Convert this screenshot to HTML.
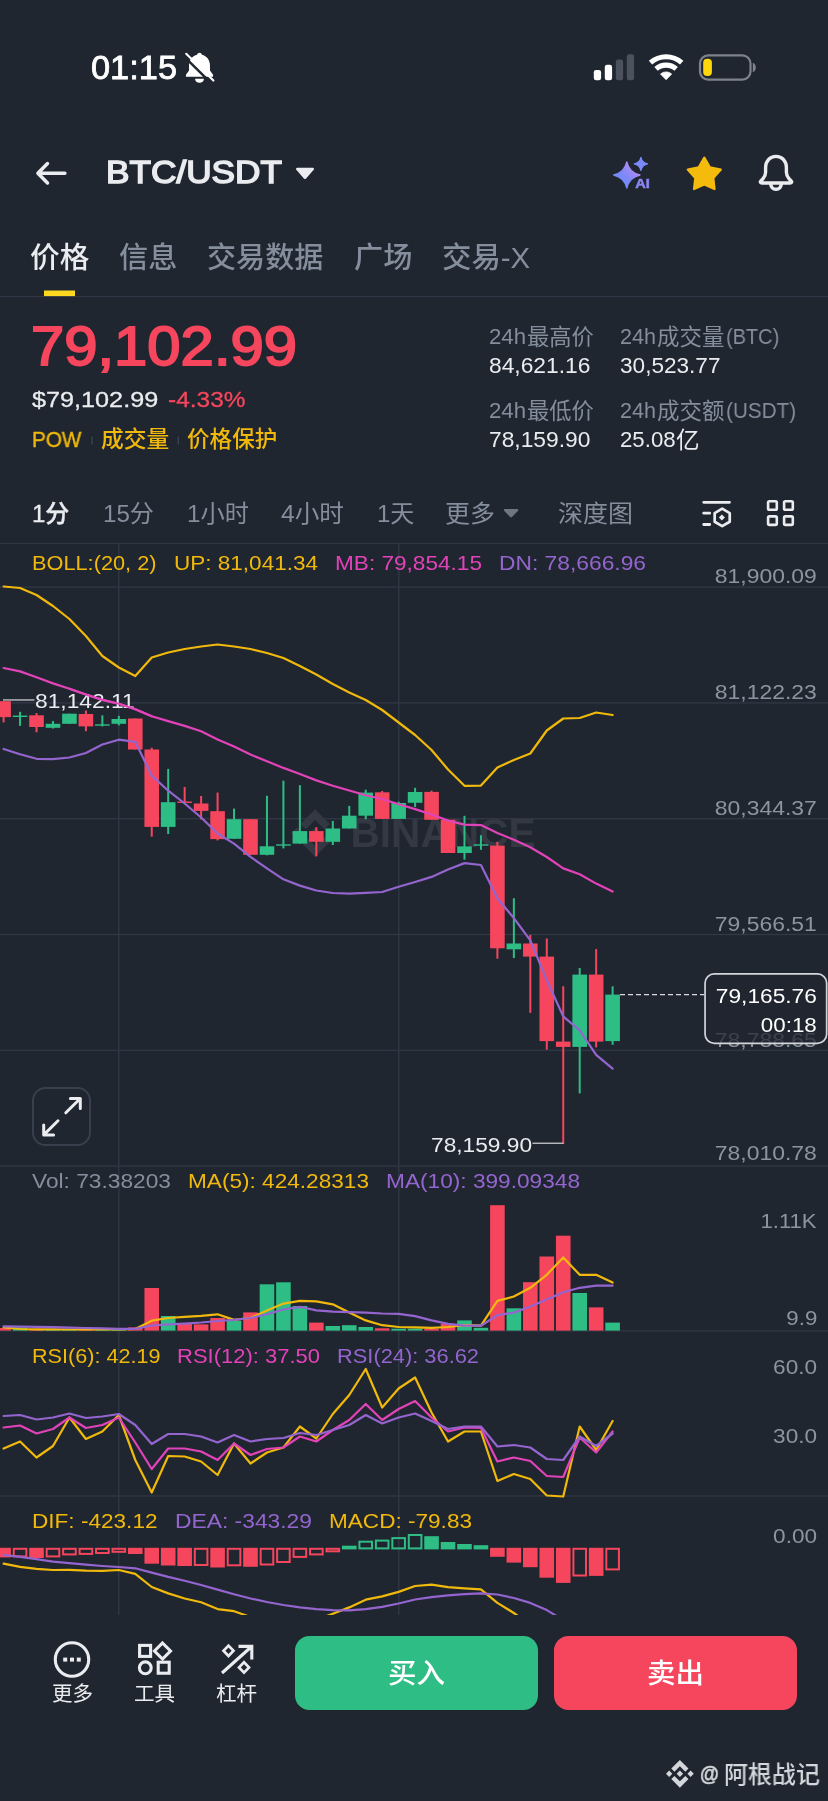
<!DOCTYPE html>
<html lang="zh-CN">
<head>
<meta charset="utf-8">
<meta name="viewport" content="width=828">
<title>BTC/USDT</title>
<style>
html,body{margin:0;padding:0;background:#202630;}
body{width:828px;height:1801px;position:relative;overflow:hidden;font-family:"Liberation Sans","Noto Sans CJK SC",sans-serif;color:#EAECEF;}
#g{position:absolute;left:0;top:0;width:828px;height:1801px;display:block;will-change:transform;}
.t{position:absolute;white-space:nowrap;line-height:1;margin:0;padding:0;will-change:transform;}
.r{text-align:right;}
.btn{position:absolute;top:1636.1px;height:73.9px;width:243.1px;border-radius:14.5px;}
.pbox{position:absolute;left:704.2px;top:973px;width:123.3px;height:71.2px;border-radius:10px;background:rgba(32,38,48,0.74);}
.ebox{position:absolute;left:32.4px;top:1087.4px;width:55px;height:55px;border:2px solid #39404d;border-radius:13.5px;background:#202630;}
</style>
</head>
<body>
<svg id="g" width="828" height="1801" viewBox="0 0 828 1801">
<!-- top separators -->
<rect x="0" y="296" width="828" height="1.1" fill="#303643"/>
<rect x="0" y="543" width="828" height="1.1" fill="#303643"/>
<rect x="44" y="290.5" width="31" height="5.6" fill="#FDD720"/>
<rect x="0" y="586.45" width="828" height="1.3" fill="#313846"/>
<rect x="0" y="702.25" width="828" height="1.3" fill="#313846"/>
<rect x="0" y="818.05" width="828" height="1.3" fill="#313846"/>
<rect x="0" y="933.85" width="828" height="1.3" fill="#313846"/>
<rect x="0" y="1049.65" width="828" height="1.3" fill="#313846"/>
<rect x="0" y="1165.45" width="828" height="1.3" fill="#313846"/>
<rect x="0" y="1330.25" width="828" height="1.3" fill="#313846"/>
<rect x="0" y="1495.35" width="828" height="1.3" fill="#313846"/>
<rect x="118.15" y="544" width="1.3" height="1071" fill="#313846"/>
<rect x="398.15" y="544" width="1.3" height="1071" fill="#313846"/>
<path d="M38.171 53.203 L62.759 28.616 l24.6 24.6 14.3-14.3 L62.759 0 23.864 38.896z M0 62.76 l14.3-14.3 14.3 14.3 -14.3 14.3z M38.171 72.316 l24.588 24.587 24.6-24.6 14.314 14.293 -38.914 38.915 L23.864 86.623z M97.01 62.76 l14.3-14.3 14.3 14.3 -14.3 14.3z M77.271 62.748 L62.76 48.236 48.243 62.753 62.76 77.271z" fill="#333843" transform="translate(291.3,809.2) scale(0.379)"/>
<text x="350.5" y="847.4" font-family="Liberation Sans, sans-serif" font-weight="700" font-size="40" fill="#333843" textLength="185" lengthAdjust="spacingAndGlyphs">BINANCE</text>
<rect x="2.6" y="701.2" width="2" height="21.2" fill="#F6465D"/>
<rect x="-3.7" y="701.2" width="14.6" height="15.9" fill="#F6465D"/>
<rect x="19.06" y="711.8" width="2" height="14.1" fill="#2EBD85"/>
<rect x="12.76" y="715.6" width="14.6" height="1.4" fill="#2EBD85"/>
<rect x="35.52" y="713.1" width="2" height="19.2" fill="#F6465D"/>
<rect x="29.22" y="715.3" width="14.6" height="11.7" fill="#F6465D"/>
<rect x="51.98" y="721" width="2" height="7.5" fill="#2EBD85"/>
<rect x="45.68" y="723.8" width="14.6" height="4" fill="#2EBD85"/>
<rect x="68.44" y="713.7" width="2" height="10.1" fill="#2EBD85"/>
<rect x="62.14" y="713.7" width="14.6" height="10.1" fill="#2EBD85"/>
<rect x="84.9" y="710.5" width="2" height="20.7" fill="#F6465D"/>
<rect x="78.6" y="714" width="14.6" height="12.4" fill="#F6465D"/>
<rect x="101.36" y="715.3" width="2" height="11.1" fill="#2EBD85"/>
<rect x="95.06" y="724.3" width="14.6" height="1.4" fill="#2EBD85"/>
<rect x="117.82" y="715.8" width="2" height="9.6" fill="#2EBD85"/>
<rect x="111.52" y="719" width="14.6" height="4.8" fill="#2EBD85"/>
<rect x="134.28" y="718.5" width="2" height="31" fill="#F6465D"/>
<rect x="127.98" y="718.5" width="14.6" height="31" fill="#F6465D"/>
<rect x="150.74" y="747.7" width="2" height="89" fill="#F6465D"/>
<rect x="144.44" y="749.5" width="14.6" height="77.4" fill="#F6465D"/>
<rect x="167.2" y="768.9" width="2" height="65.1" fill="#2EBD85"/>
<rect x="160.9" y="802.2" width="14.6" height="24.7" fill="#2EBD85"/>
<rect x="183.66" y="787" width="2" height="16.5" fill="#F6465D"/>
<rect x="177.36" y="801.5" width="14.6" height="1.4" fill="#F6465D"/>
<rect x="200.12" y="796" width="2" height="23.4" fill="#F6465D"/>
<rect x="193.82" y="803.5" width="14.6" height="7.4" fill="#F6465D"/>
<rect x="216.58" y="792.6" width="2" height="47.8" fill="#F6465D"/>
<rect x="210.28" y="811.2" width="14.6" height="27.9" fill="#F6465D"/>
<rect x="233.04" y="808.6" width="2" height="30.2" fill="#2EBD85"/>
<rect x="226.74" y="819.2" width="14.6" height="19.6" fill="#2EBD85"/>
<rect x="249.5" y="819.2" width="2" height="35.6" fill="#F6465D"/>
<rect x="243.2" y="819.2" width="14.6" height="35.6" fill="#F6465D"/>
<rect x="265.96" y="795.8" width="2" height="59.5" fill="#2EBD85"/>
<rect x="259.66" y="846.3" width="14.6" height="8.5" fill="#2EBD85"/>
<rect x="282.42" y="780.7" width="2" height="67.7" fill="#2EBD85"/>
<rect x="276.12" y="844.3" width="14.6" height="1.4" fill="#2EBD85"/>
<rect x="298.88" y="785.2" width="2" height="58.4" fill="#2EBD85"/>
<rect x="292.58" y="831.1" width="14.6" height="12.5" fill="#2EBD85"/>
<rect x="315.34" y="827.2" width="2" height="29.2" fill="#F6465D"/>
<rect x="309.04" y="831.1" width="14.6" height="10.7" fill="#F6465D"/>
<rect x="331.8" y="821" width="2" height="24" fill="#2EBD85"/>
<rect x="325.5" y="828.5" width="14.6" height="13.3" fill="#2EBD85"/>
<rect x="348.26" y="805.9" width="2" height="22.6" fill="#2EBD85"/>
<rect x="341.96" y="815.7" width="14.6" height="12.8" fill="#2EBD85"/>
<rect x="364.72" y="789.7" width="2" height="29.5" fill="#2EBD85"/>
<rect x="358.42" y="792.6" width="14.6" height="23.1" fill="#2EBD85"/>
<rect x="381.18" y="791" width="2" height="28" fill="#F6465D"/>
<rect x="374.88" y="792.3" width="14.6" height="26.6" fill="#F6465D"/>
<rect x="397.64" y="801.7" width="2" height="17.2" fill="#2EBD85"/>
<rect x="391.34" y="803" width="14.6" height="15.9" fill="#2EBD85"/>
<rect x="414.1" y="787.8" width="2" height="19.2" fill="#2EBD85"/>
<rect x="407.8" y="792" width="14.6" height="10.8" fill="#2EBD85"/>
<rect x="430.56" y="790.6" width="2" height="29.2" fill="#F6465D"/>
<rect x="424.26" y="791.9" width="14.6" height="27.9" fill="#F6465D"/>
<rect x="447.02" y="819.8" width="2" height="33.2" fill="#F6465D"/>
<rect x="440.72" y="819.8" width="14.6" height="33.2" fill="#F6465D"/>
<rect x="463.48" y="815.8" width="2" height="43.8" fill="#2EBD85"/>
<rect x="457.18" y="846.4" width="14.6" height="6.6" fill="#2EBD85"/>
<rect x="479.94" y="835.2" width="2" height="14.6" fill="#2EBD85"/>
<rect x="473.64" y="844.3" width="14.6" height="1.4" fill="#2EBD85"/>
<rect x="496.4" y="841.8" width="2" height="116.9" fill="#F6465D"/>
<rect x="490.1" y="845.6" width="14.6" height="102.7" fill="#F6465D"/>
<rect x="512.86" y="898.2" width="2" height="59.9" fill="#2EBD85"/>
<rect x="506.56" y="943.5" width="14.6" height="5.8" fill="#2EBD85"/>
<rect x="529.32" y="934.8" width="2" height="78.1" fill="#F6465D"/>
<rect x="523.02" y="943.5" width="14.6" height="13.1" fill="#F6465D"/>
<rect x="545.78" y="938.5" width="2" height="111.1" fill="#F6465D"/>
<rect x="539.48" y="956.6" width="14.6" height="84.5" fill="#F6465D"/>
<rect x="562.24" y="986.3" width="2" height="157.6" fill="#F6465D"/>
<rect x="555.94" y="1041.6" width="14.6" height="5.3" fill="#F6465D"/>
<rect x="578.7" y="968" width="2" height="125.4" fill="#2EBD85"/>
<rect x="572.4" y="974.6" width="14.6" height="72.3" fill="#2EBD85"/>
<rect x="595.16" y="949.1" width="2" height="98.3" fill="#F6465D"/>
<rect x="588.86" y="974.6" width="14.6" height="67" fill="#F6465D"/>
<rect x="611.62" y="986.3" width="2" height="58.5" fill="#2EBD85"/>
<rect x="605.32" y="994.6" width="14.6" height="46.5" fill="#2EBD85"/>
<polyline points="3.6,586.5 20.06,588 36.52,595 52.98,606 69.44,619 85.9,636 102.36,656 118.82,667.5 135.28,676 151.74,657.5 168.2,652.5 184.66,649 201.12,646.5 217.58,644.5 234.04,646.5 250.5,649 266.96,653 283.42,658 299.88,666 316.34,674.5 332.8,684 349.26,692.5 365.72,700 382.18,710 398.64,722.5 415.1,735 431.56,750 448.02,769.5 464.48,785.8 480.94,785.6 497.4,767.4 513.86,760 530.32,753.5 546.78,730.5 563.24,718.5 579.7,718 596.16,712.5 612.62,715" fill="none" stroke="#F0B90B" stroke-width="2.2" stroke-linejoin="round" stroke-linecap="round"/>
<polyline points="3.6,668 20.06,671.4 36.52,677.3 52.98,683.4 69.44,688.7 85.9,694.5 102.36,699.9 118.82,703.8 135.28,709.2 151.74,716.3 168.2,721.1 184.66,725.9 201.12,731.2 217.58,739.6 234.04,746.6 250.5,754.6 266.96,761.3 283.42,767.9 299.88,774 316.34,780.4 332.8,785.7 349.26,790.5 365.72,795.3 382.18,799 398.64,804.2 415.1,809.1 431.56,814.5 448.02,820.6 464.48,824.6 480.94,825.1 497.4,833.1 513.86,839.7 530.32,847.2 546.78,857 563.24,868.4 579.7,874.3 596.16,883.6 612.62,891.5" fill="none" stroke="#E243B9" stroke-width="2.2" stroke-linejoin="round" stroke-linecap="round"/>
<polyline points="3.6,749 20.06,754.3 36.52,758.8 52.98,759.1 69.44,757.5 85.9,753 102.36,744.5 118.82,739.7 135.28,741.8 151.74,775.6 168.2,790.7 184.66,803.5 201.12,817.5 217.58,833.5 234.04,843.6 250.5,856.9 266.96,868.3 283.42,879.3 299.88,885.6 316.34,890.5 332.8,893 349.26,893.6 365.72,892.8 382.18,892 398.64,886.8 415.1,882 431.56,876.9 448.02,869.5 464.48,863.1 480.94,865 497.4,898.2 513.86,918.1 530.32,940.3 546.78,980.2 563.24,1016.4 579.7,1030.4 596.16,1054.9 612.62,1068.7" fill="none" stroke="#9465CF" stroke-width="2.2" stroke-linejoin="round" stroke-linecap="round"/>
<rect x="3" y="699.3" width="31.5" height="1.3" fill="#c5c9cf"/>
<rect x="532.5" y="1142.6" width="31" height="1.3" fill="#c5c9cf"/>
<line x1="620" y1="994.6" x2="705" y2="994.6" stroke="#d5d8dd" stroke-width="1.3" stroke-dasharray="5 3"/>
<rect x="-3.7" y="1328" width="14.6" height="2.6" fill="#F6465D"/>
<rect x="12.76" y="1327.4" width="14.6" height="3.2" fill="#2EBD85"/>
<rect x="29.22" y="1329.8" width="14.6" height="0.8" fill="#F6465D"/>
<rect x="45.68" y="1329.8" width="14.6" height="0.8" fill="#2EBD85"/>
<rect x="62.14" y="1329.6" width="14.6" height="1" fill="#2EBD85"/>
<rect x="78.6" y="1329.6" width="14.6" height="1" fill="#F6465D"/>
<rect x="95.06" y="1329.8" width="14.6" height="0.8" fill="#2EBD85"/>
<rect x="111.52" y="1329.6" width="14.6" height="1" fill="#2EBD85"/>
<rect x="127.98" y="1327.4" width="14.6" height="3.2" fill="#F6465D"/>
<rect x="144.44" y="1288" width="14.6" height="42.6" fill="#F6465D"/>
<rect x="160.9" y="1316" width="14.6" height="14.6" fill="#2EBD85"/>
<rect x="177.36" y="1323.6" width="14.6" height="7" fill="#F6465D"/>
<rect x="193.82" y="1324.4" width="14.6" height="6.2" fill="#F6465D"/>
<rect x="210.28" y="1318" width="14.6" height="12.6" fill="#F6465D"/>
<rect x="226.74" y="1321" width="14.6" height="9.6" fill="#2EBD85"/>
<rect x="243.2" y="1312.4" width="14.6" height="18.2" fill="#F6465D"/>
<rect x="259.66" y="1284.3" width="14.6" height="46.3" fill="#2EBD85"/>
<rect x="276.12" y="1282.3" width="14.6" height="48.3" fill="#2EBD85"/>
<rect x="292.58" y="1306" width="14.6" height="24.6" fill="#2EBD85"/>
<rect x="309.04" y="1322.6" width="14.6" height="8" fill="#F6465D"/>
<rect x="325.5" y="1326" width="14.6" height="4.6" fill="#2EBD85"/>
<rect x="341.96" y="1325.2" width="14.6" height="5.4" fill="#2EBD85"/>
<rect x="358.42" y="1327" width="14.6" height="3.6" fill="#2EBD85"/>
<rect x="374.88" y="1328.3" width="14.6" height="2.3" fill="#F6465D"/>
<rect x="391.34" y="1328.7" width="14.6" height="1.9" fill="#2EBD85"/>
<rect x="407.8" y="1328.7" width="14.6" height="1.9" fill="#2EBD85"/>
<rect x="424.26" y="1328.7" width="14.6" height="1.9" fill="#F6465D"/>
<rect x="440.72" y="1323.9" width="14.6" height="6.7" fill="#F6465D"/>
<rect x="457.18" y="1320.4" width="14.6" height="10.2" fill="#2EBD85"/>
<rect x="473.64" y="1327.8" width="14.6" height="2.8" fill="#2EBD85"/>
<rect x="490.1" y="1205.2" width="14.6" height="125.4" fill="#F6465D"/>
<rect x="506.56" y="1308.3" width="14.6" height="22.3" fill="#2EBD85"/>
<rect x="523.02" y="1282.2" width="14.6" height="48.4" fill="#F6465D"/>
<rect x="539.48" y="1256.5" width="14.6" height="74.1" fill="#F6465D"/>
<rect x="555.94" y="1235.7" width="14.6" height="94.9" fill="#F6465D"/>
<rect x="572.4" y="1293" width="14.6" height="37.6" fill="#2EBD85"/>
<rect x="588.86" y="1307.4" width="14.6" height="23.2" fill="#F6465D"/>
<rect x="605.32" y="1322.6" width="14.6" height="8" fill="#2EBD85"/>
<polyline points="3.6,1327.4 20.06,1329 36.52,1329.3 52.98,1329.4 69.44,1329.5 85.9,1329.5 102.36,1329.5 118.82,1329.5 135.28,1329 151.74,1320.7 168.2,1318 184.66,1316.9 201.12,1315.8 217.58,1314.3 234.04,1319.9 250.5,1318 266.96,1310.5 283.42,1303.6 299.88,1300.8 316.34,1301.3 332.8,1304.3 349.26,1312.6 365.72,1320.4 382.18,1325.2 398.64,1327 415.1,1327.4 431.56,1327.8 448.02,1327 464.48,1325.2 480.94,1325.7 497.4,1300.9 513.86,1296.5 530.32,1287.8 546.78,1274.8 563.24,1257.4 579.7,1274.8 596.16,1274.8 612.62,1282.6" fill="none" stroke="#F0B90B" stroke-width="2.2" stroke-linejoin="round" stroke-linecap="round"/>
<polyline points="3.6,1326.3 20.06,1326.6 36.52,1326.9 52.98,1327.2 69.44,1327.6 85.9,1328 102.36,1328.4 118.82,1328.9 135.28,1328.9 151.74,1325.5 168.2,1324.4 184.66,1323.6 201.12,1322.5 217.58,1321 234.04,1319.9 250.5,1318 266.96,1314.3 283.42,1309.5 299.88,1306.8 316.34,1310.4 332.8,1311.7 349.26,1312.2 365.72,1312.6 382.18,1313.5 398.64,1313.9 415.1,1316.1 431.56,1320.4 448.02,1323.9 464.48,1325.7 480.94,1325.7 497.4,1315.2 513.86,1312.6 530.32,1306.5 546.78,1299.6 563.24,1292.2 579.7,1287.8 596.16,1285.7 612.62,1285.7" fill="none" stroke="#9465CF" stroke-width="2.2" stroke-linejoin="round" stroke-linecap="round"/>
<polyline points="3.6,1448.5 20.06,1441.5 36.52,1457.5 52.98,1446 69.44,1417.5 85.9,1439 102.36,1431.5 118.82,1415 135.28,1460 151.74,1492.5 168.2,1456 184.66,1456.5 201.12,1461.5 217.58,1475 234.04,1443.5 250.5,1463.5 266.96,1452.5 283.42,1447.5 299.88,1426.5 316.34,1438.5 332.8,1414 349.26,1395 365.72,1369 382.18,1407.5 398.64,1388.5 415.1,1377.5 431.56,1412.5 448.02,1441.5 464.48,1431.5 480.94,1431.5 497.4,1481 513.86,1474 530.32,1479 546.78,1495.5 563.24,1496.5 579.7,1426.5 596.16,1450 612.62,1421" fill="none" stroke="#F0B90B" stroke-width="2.2" stroke-linejoin="round" stroke-linecap="round"/>
<polyline points="3.6,1427.5 20.06,1425.5 36.52,1433.5 52.98,1429 69.44,1417.5 85.9,1428 102.36,1425 118.82,1417.5 135.28,1442.5 151.74,1469 168.2,1448.5 184.66,1448.5 201.12,1451.5 217.58,1460 234.04,1443.5 250.5,1455 266.96,1449 283.42,1447.5 299.88,1436.5 316.34,1441.5 332.8,1430 349.26,1420 365.72,1404 382.18,1420 398.64,1409 415.1,1401 431.56,1417.5 448.02,1431.5 464.48,1427.5 480.94,1428 497.4,1461.5 513.86,1457.5 530.32,1461 546.78,1476 563.24,1477 579.7,1437.5 596.16,1452.5 612.62,1431.5" fill="none" stroke="#E243B9" stroke-width="2.2" stroke-linejoin="round" stroke-linecap="round"/>
<polyline points="3.6,1416 20.06,1415 36.52,1419.5 52.98,1417.5 69.44,1413.5 85.9,1418 102.36,1416.5 118.82,1414 135.28,1425 151.74,1444 168.2,1434 184.66,1434 201.12,1436.5 217.58,1442.5 234.04,1435 250.5,1441.5 266.96,1439 283.42,1438 299.88,1433 316.34,1435 332.8,1430 349.26,1425 365.72,1415 382.18,1423.5 398.64,1417.5 415.1,1413.5 431.56,1421 448.02,1429 464.48,1426.5 480.94,1426.5 497.4,1446.5 513.86,1445 530.32,1447.5 546.78,1459 563.24,1460 579.7,1436.5 596.16,1446 612.62,1433.5" fill="none" stroke="#9465CF" stroke-width="2.2" stroke-linejoin="round" stroke-linecap="round"/>
<clipPath id="mc"><rect x="0" y="1497" width="828" height="118"/></clipPath>
<g clip-path="url(#mc)">
<rect x="-3.7" y="1547.8" width="14.6" height="9.6" fill="#F6465D"/>
<rect x="13.76" y="1548.8" width="12.6" height="7.6" fill="none" stroke="#F6465D" stroke-width="2"/>
<rect x="29.22" y="1547.8" width="14.6" height="10.2" fill="#F6465D"/>
<rect x="46.68" y="1548.8" width="12.6" height="7.6" fill="none" stroke="#F6465D" stroke-width="2"/>
<rect x="63.14" y="1548.8" width="12.6" height="5.6" fill="none" stroke="#F6465D" stroke-width="2"/>
<rect x="79.6" y="1548.8" width="12.6" height="5.1" fill="none" stroke="#F6465D" stroke-width="2"/>
<rect x="96.06" y="1548.8" width="12.6" height="4.2" fill="none" stroke="#F6465D" stroke-width="2"/>
<rect x="112.52" y="1548.8" width="12.6" height="3" fill="none" stroke="#F6465D" stroke-width="2"/>
<rect x="127.98" y="1547.8" width="14.6" height="6.2" fill="#F6465D"/>
<rect x="144.44" y="1547.8" width="14.6" height="15.9" fill="#F6465D"/>
<rect x="160.9" y="1547.8" width="14.6" height="17.7" fill="#F6465D"/>
<rect x="177.36" y="1547.8" width="14.6" height="18.2" fill="#F6465D"/>
<rect x="194.82" y="1548.8" width="12.6" height="16.2" fill="none" stroke="#F6465D" stroke-width="2"/>
<rect x="210.28" y="1547.8" width="14.6" height="19.7" fill="#F6465D"/>
<rect x="227.74" y="1548.8" width="12.6" height="16.5" fill="none" stroke="#F6465D" stroke-width="2"/>
<rect x="243.2" y="1547.8" width="14.6" height="19" fill="#F6465D"/>
<rect x="260.66" y="1548.8" width="12.6" height="15.7" fill="none" stroke="#F6465D" stroke-width="2"/>
<rect x="277.12" y="1548.8" width="12.6" height="13.2" fill="none" stroke="#F6465D" stroke-width="2"/>
<rect x="293.58" y="1548.8" width="12.6" height="8.1" fill="none" stroke="#F6465D" stroke-width="2"/>
<rect x="310.04" y="1548.8" width="12.6" height="5.6" fill="none" stroke="#F6465D" stroke-width="2"/>
<rect x="326.5" y="1548.8" width="12.6" height="2.5" fill="none" stroke="#F6465D" stroke-width="2"/>
<rect x="341.96" y="1545.7" width="14.6" height="3.7" fill="#2EBD85"/>
<rect x="359.42" y="1541.7" width="12.6" height="6.7" fill="none" stroke="#2EBD85" stroke-width="2"/>
<rect x="375.88" y="1540.6" width="12.6" height="7.8" fill="none" stroke="#2EBD85" stroke-width="2"/>
<rect x="392.34" y="1538.1" width="12.6" height="10.3" fill="none" stroke="#2EBD85" stroke-width="2"/>
<rect x="408.8" y="1535" width="12.6" height="13.4" fill="none" stroke="#2EBD85" stroke-width="2"/>
<rect x="424.26" y="1536.2" width="14.6" height="13.2" fill="#2EBD85"/>
<rect x="440.72" y="1542" width="14.6" height="7.4" fill="#2EBD85"/>
<rect x="457.18" y="1544" width="14.6" height="5.4" fill="#2EBD85"/>
<rect x="473.64" y="1545.2" width="14.6" height="4.2" fill="#2EBD85"/>
<rect x="490.1" y="1547.8" width="14.6" height="9" fill="#F6465D"/>
<rect x="506.56" y="1547.8" width="14.6" height="14.8" fill="#F6465D"/>
<rect x="523.02" y="1547.8" width="14.6" height="19.4" fill="#F6465D"/>
<rect x="539.48" y="1547.8" width="14.6" height="29.9" fill="#F6465D"/>
<rect x="555.94" y="1547.8" width="14.6" height="35.1" fill="#F6465D"/>
<rect x="573.4" y="1548.8" width="12.6" height="26.7" fill="none" stroke="#F6465D" stroke-width="2"/>
<rect x="588.86" y="1547.8" width="14.6" height="28.1" fill="#F6465D"/>
<rect x="606.32" y="1548.8" width="12.6" height="20.6" fill="none" stroke="#F6465D" stroke-width="2"/>
<polyline points="3.6,1563.7 20.06,1566.8 36.52,1568.8 52.98,1570 69.44,1569.8 85.9,1570.6 102.36,1570.8 118.82,1570 135.28,1573.9 151.74,1587 168.2,1593.4 184.66,1598.5 201.12,1602.3 217.58,1609.1 234.04,1611.2 250.5,1617 266.96,1621 283.42,1623 299.88,1623 316.34,1620 332.8,1613.7 349.26,1607.4 365.72,1599.7 382.18,1596.4 398.64,1591.9 415.1,1586 431.56,1584.6 448.02,1587.2 464.48,1588.4 480.94,1589.3 497.4,1602.9 513.86,1613 530.32,1625 546.78,1640 563.24,1655 579.7,1660 596.16,1665 612.62,1668" fill="none" stroke="#F0B90B" stroke-width="2.2" stroke-linejoin="round" stroke-linecap="round"/>
<polyline points="3.6,1554.9 20.06,1556.9 36.52,1559.2 52.98,1561.7 69.44,1563.2 85.9,1564.7 102.36,1566 118.82,1567 135.28,1568.3 151.74,1572.6 168.2,1576.9 184.66,1580.7 201.12,1585 217.58,1589.6 234.04,1594.2 250.5,1598.5 266.96,1602 283.42,1605 299.88,1607.4 316.34,1609.1 332.8,1610.1 349.26,1610.4 365.72,1609.1 382.18,1606.8 398.64,1603.5 415.1,1599.5 431.56,1597.1 448.02,1595.4 464.48,1594.2 480.94,1593.3 497.4,1594.5 513.86,1598 530.32,1602.9 546.78,1610.1 563.24,1620 579.7,1628 596.16,1636 612.62,1642" fill="none" stroke="#9465CF" stroke-width="2.2" stroke-linejoin="round" stroke-linecap="round"/>
</g>

<!-- status: bell slash -->
<g transform="translate(199.5,67.6) scale(1.19)">
 <path d="M0 -12.5 c1.2 0 2 .8 2 1.800 c4.200 1 6.800 4.600 6.800 9 v4.200 l2.600 3.600 v1.600 h-22.800 v-1.600 l2.600 -3.600 v-4.200 c0 -4.400 2.600 -8 6.800 -9 c0 -1 .8 -1.800 2 -1.800z M-3.700 9.300 h7.400 c0 2 -1.600 3.500 -3.700 3.500 s-3.700 -1.500 -3.700 -3.500z" fill="#FFFFFF"/>
</g>
<line x1="183.200" y1="55.600" x2="210.600" y2="82.700" stroke="#202630" stroke-width="2.400"/>
<line x1="186.200" y1="53.800" x2="213.400" y2="80.600" stroke="#FFFFFF" stroke-width="2.100" stroke-linecap="round"/>
<!-- signal -->
<rect x="593.800" y="69.900" width="7.300" height="10.300" rx="2.300" fill="#FFFFFF"/>
<rect x="604.800" y="64.800" width="7.300" height="15.400" rx="2.300" fill="#FFFFFF"/>
<rect x="615.800" y="59.500" width="7.300" height="20.700" rx="2.300" fill="#4c525d"/>
<rect x="626.800" y="54.200" width="7.300" height="26" rx="2.300" fill="#4c525d"/>
<!-- wifi -->
<g transform="translate(666.100,80.300)" fill="none" stroke="#FFFFFF" stroke-linecap="butt">
 <path d="M-15.60 -17.64 A 23.55 23.55 0 0 1 15.60 -17.64" stroke-width="5.050"/>
 <path d="M-10.07 -11.38 A 15.20 15.20 0 0 1 10.07 -11.38" stroke-width="5.050"/>
 <path d="M0 -0.600 L-5.57 -6.29 A 8.40 8.40 0 0 1 5.57 -6.29 Z" fill="#FFFFFF" stroke="#FFFFFF" stroke-width="0.800" stroke-linejoin="round"/>
</g>
<!-- battery -->
<rect x="700" y="55.300" width="50.500" height="24.400" rx="8.200" fill="none" stroke="#7d828b" stroke-width="2.200"/>
<rect x="703.200" y="58.800" width="8.700" height="17.200" rx="4" fill="#FFD60A"/>
<path d="M752.800 62.800 c2.200 .8 3 2.600 3 4.700 s-.8 3.900 -3 4.700z" fill="#7d828b"/>
<!-- back arrow -->
<path d="M64.900 173.200 H39 M47.500 163.500 L37.900 173.200 L47.500 182.900" fill="none" stroke="#EAECEF" stroke-width="3.500" stroke-linecap="round" stroke-linejoin="round"/>
<!-- dropdown -->
<path d="M297.200 167.700 h15.600 a1.200 1.200 0 0 1 .9 2 l-7.600 8.800 a1.600 1.600 0 0 1 -2.200 0 l-7.600 -8.800 a1.200 1.200 0 0 1 .9 -2z" fill="#EAECEF"/>
<!-- AI sparkle -->
<defs><linearGradient id="aig" x1="0.15" y1="0.85" x2="0.85" y2="0.15"><stop offset="0" stop-color="#6a8cfa"/><stop offset="0.45" stop-color="#8088f8"/><stop offset="1" stop-color="#bb8cf0"/></linearGradient></defs>
<path d="M626.80 161.90 Q629.16 172.64 639.90 175.00 Q629.16 177.36 626.80 188.10 Q624.44 177.36 613.70 175.00 Q624.44 172.64 626.80 161.90z" fill="url(#aig)" stroke="url(#aig)" stroke-width="1.400" stroke-linejoin="round"/>
<path d="M640.90 157.30 Q642.09 162.71 647.50 163.90 Q642.09 165.09 640.90 170.50 Q639.71 165.09 634.30 163.90 Q639.71 162.71 640.90 157.30z" fill="#7b8af8" stroke="#7b8af8" stroke-width="1.200" stroke-linejoin="round"/>
<!-- star -->
<path d="M704.30 157.60 L709.88 167.31 L720.85 169.62 L713.34 177.94 L714.53 189.08 L704.30 184.50 L694.07 189.08 L695.26 177.94 L687.75 169.62 L698.72 167.31Z" fill="#F5BB0C" stroke="#F5BB0C" stroke-width="2.200" stroke-linejoin="round"/>
<!-- bell -->
<g fill="none" stroke="#EAECEF" stroke-width="3.400" stroke-linejoin="round" stroke-linecap="round">
 <path d="M776 156.400 c-6.200 0 -10.400 4.800 -10.400 11.200 v4.600 c0 3 -1 4.600 -2.600 6.600 l-2.200 2.200 c-1 1.200 -.2 2 1 2 h28.400 c1.200 0 2 -.8 1 -2 l-2.200 -2.200 c-1.600 -2 -2.600 -3.600 -2.600 -6.600 v-4.600 c0 -6.400 -4.200 -11.200 -10.400 -11.200z"/>
 <path d="M770.600 183.600 c.4 3.400 2.400 5.700 5.400 5.700 s5 -2.300 5.400 -5.700"/>
</g>
<!-- tabs small separators -->
<rect x="91.300" y="436.5" width="1.400" height="8" fill="#3a4250"/>
<rect x="177.600" y="436.5" width="1.400" height="8" fill="#3a4250"/>
<!-- more triangle -->
<path d="M504.800 509 h12.600 a1 1 0 0 1 .7 1.700 l-6.100 6.300 a1.300 1.300 0 0 1 -1.800 0 l-6.100 -6.300 a1 1 0 0 1 .7 -1.700z" fill="#6d7683"/>
<!-- settings icon -->
<g fill="none" stroke="#EAECEF" stroke-width="2.800" stroke-linecap="round">
 <path d="M703.700 502.300 H729.500 M703.700 513.200 H709.700 M703.700 524.500 H709.700"/>
 <path d="M722.20 508.70 L729.73 513.05 L729.73 521.75 L722.20 526.10 L714.67 521.75 L714.67 513.05Z" stroke-linejoin="round" stroke-width="2.700"/>
</g>
<path d="M721.900 514.500 l3 3 -3 3 -3 -3z" fill="#EAECEF"/>
<!-- grid icon -->
<g fill="none" stroke="#EAECEF" stroke-width="2.600">
 <rect x="768.100" y="501.200" width="8.700" height="8.500" rx="1.300"/>
 <rect x="784.100" y="501.200" width="8.700" height="8.500" rx="1.300"/>
 <rect x="768.100" y="516.400" width="8.700" height="8.500" rx="1.300"/>
 <rect x="784.100" y="516.400" width="8.700" height="8.500" rx="1.300"/>
</g>
<g transform="translate(0,1)">
<!-- bottom: more -->
<circle cx="72" cy="1658.500" r="16.700" fill="none" stroke="#EAECEF" stroke-width="3.100"/>
<rect x="63.200" y="1656.600" width="4" height="4" fill="#EAECEF"/><rect x="70" y="1656.600" width="4" height="4" fill="#EAECEF"/><rect x="76.800" y="1656.600" width="4" height="4" fill="#EAECEF"/>
<!-- bottom: tools -->
<g fill="none" stroke="#EAECEF" stroke-width="3.100" stroke-linejoin="miter">
 <rect x="139.600" y="1644.400" width="11" height="11"/>
 <path d="M162.500 1642 l8 8 -8 8 -8 -8z"/>
 <circle cx="145.300" cy="1666.800" r="5.900"/>
 <rect x="158.200" y="1661.200" width="11" height="11"/>
</g>
<!-- bottom: leverage -->
<g fill="none" stroke="#EAECEF" stroke-width="3.100" stroke-linejoin="miter" stroke-linecap="butt">
 <path d="M222 1672 L250.500 1646.500 M238.500 1645.400 H251.800 V1658.600"/>
 <path d="M228.500 1644.600 l5 5.200 -5 5.200 -5 -5.200z" stroke-width="2.700"/>
 <path d="M244 1661.200 l5 5.200 -5 5.200 -5 -5.200z" stroke-width="2.700"/>
</g>
</g>
<!-- watermark logo -->
<path d="M38.171 53.203 L62.759 28.616 l24.6 24.6 14.3-14.3 L62.759 0 23.864 38.896z M0 62.76 l14.3-14.3 14.3 14.3 -14.3 14.3z M38.171 72.316 l24.588 24.587 24.6-24.6 14.314 14.293 -38.914 38.915 L23.864 86.623z M97.01 62.76 l14.3-14.3 14.3 14.3 -14.3 14.3z M77.271 62.748 L62.76 48.236 48.243 62.753 62.76 77.271z" fill="#d3d6db" transform="translate(666,1759.900) scale(0.2212)"/>
<text x="635.3" y="188.300" font-family="Liberation Sans, sans-serif" font-weight="700" font-size="13.4" fill="#8b87f6" stroke="#8b87f6" stroke-width="0.500" textLength="14.6" lengthAdjust="spacingAndGlyphs">AI</text>

</svg>
<div class="btn" style="left:294.5px;background:#2EBD85"></div>
<div class="btn" style="left:553.8px;background:#F6465D"></div>
<div class="ebox"></div>
<div class="t" id="t0" style="top:50.24px;font-size:34px;color:#FFFFFF;left:91px;transform:scaleX(1.0107);transform-origin:left center;-webkit-text-stroke:0.8px #FFFFFF;">01:15</div>
<div class="t" id="t1" style="top:157.37px;font-size:31.8px;color:#EAECEF;left:106.2px;transform:scaleX(1.1069);transform-origin:left center;-webkit-text-stroke:1.5px #EAECEF;">BTC/USDT</div>
<div class="t" id="t2" style="top:244.24px;font-size:29px;color:#EAECEF;font-weight:500;left:29.84px;transform:scaleX(1.0225);transform-origin:left center;">价格</div>
<div class="t" id="t3" style="top:244.24px;font-size:29px;color:#848E9C;font-weight:500;left:118.84px;transform:scaleX(1.0052);transform-origin:left center;">信息</div>
<div class="t" id="t4" style="top:244.24px;font-size:29px;color:#848E9C;font-weight:500;left:206.84px;transform:scaleX(1.0026);transform-origin:left center;">交易数据</div>
<div class="t" id="t5" style="top:244.24px;font-size:29px;color:#848E9C;font-weight:500;left:353.84px;transform:scaleX(1.0052);transform-origin:left center;">广场</div>
<div class="t" id="t6" style="top:244.24px;font-size:29px;color:#848E9C;font-weight:500;left:441.84px;transform:scaleX(1.0132);transform-origin:left center;">交易-X</div>
<div class="t" id="t7" style="top:319.78px;font-size:54.6px;color:#F6465D;left:31px;transform:scaleX(1.0952);transform-origin:left center;-webkit-text-stroke:1.9px #F6465D;">79,102.99</div>
<div class="t" id="t8" style="top:389.06px;font-size:22.6px;color:#EAECEF;left:31.8px;transform:scaleX(1.1159);transform-origin:left center;-webkit-text-stroke:0.3px #EAECEF;">$79,102.99</div>
<div class="t" id="t9" style="top:389.06px;font-size:22.6px;color:#F6465D;left:167.5px;transform:scaleX(1.0825);transform-origin:left center;-webkit-text-stroke:0.3px #F6465D;">-4.33%</div>
<div class="t" id="t10" style="top:429.1px;font-size:21.7px;color:#F0B90B;left:31.6px;transform:scaleX(0.9534);transform-origin:left center;-webkit-text-stroke:0.4px #F0B90B;">POW</div>
<div class="t" id="t11" style="top:429.3px;font-size:22.5px;color:#F0B90B;font-weight:500;left:100.6px;transform:scaleX(1.0116);transform-origin:left center;">成交量</div>
<div class="t" id="t12" style="top:429.3px;font-size:22.5px;color:#F0B90B;font-weight:500;left:187.1px;transform:scaleX(1.0032);transform-origin:left center;">价格保护</div>
<div class="t" id="t13" style="top:326.15px;font-size:21.6px;color:#848E9C;left:488.7px;transform:scaleX(1.0297);transform-origin:left center;">24h</div>
<div class="t" id="t14" style="top:327.09px;font-size:22.3px;color:#848E9C;left:526.91px;transform:scaleX(0.9937);transform-origin:left center;">最高价</div>
<div class="t" id="t15" style="top:354.5px;font-size:21.7px;color:#EAECEF;left:488.7px;transform:scaleX(1.0509);transform-origin:left center;">84,621.16</div>
<div class="t" id="t16" style="top:326.15px;font-size:21.6px;color:#848E9C;left:620.1px;transform:scaleX(0.9936);transform-origin:left center;">24h</div>
<div class="t" id="t17" style="top:327.09px;font-size:22.3px;color:#848E9C;left:656.91px;transform:scaleX(1.0086);transform-origin:left center;">成交量</div>
<div class="t" id="t18" style="top:326.15px;font-size:21.6px;color:#848E9C;left:725.9px;transform:scaleX(0.9240);transform-origin:left center;">(BTC)</div>
<div class="t" id="t19" style="top:354.5px;font-size:21.7px;color:#EAECEF;left:620.1px;transform:scaleX(1.0416);transform-origin:left center;">30,523.77</div>
<div class="t" id="t20" style="top:400.25px;font-size:21.6px;color:#848E9C;left:488.7px;transform:scaleX(1.0297);transform-origin:left center;">24h</div>
<div class="t" id="t21" style="top:401.19px;font-size:22.3px;color:#848E9C;left:526.91px;transform:scaleX(0.9937);transform-origin:left center;">最低价</div>
<div class="t" id="t22" style="top:429.2px;font-size:21.7px;color:#EAECEF;left:488.7px;transform:scaleX(1.0509);transform-origin:left center;">78,159.90</div>
<div class="t" id="t23" style="top:400.25px;font-size:21.6px;color:#848E9C;left:620.1px;transform:scaleX(0.9936);transform-origin:left center;">24h</div>
<div class="t" id="t24" style="top:401.19px;font-size:22.3px;color:#848E9C;left:656.91px;transform:scaleX(1.0086);transform-origin:left center;">成交额</div>
<div class="t" id="t25" style="top:400.25px;font-size:21.6px;color:#848E9C;left:725.9px;transform:scaleX(0.9580);transform-origin:left center;">(USDT)</div>
<div class="t" id="t26" style="top:429.2px;font-size:21.7px;color:#EAECEF;left:620.1px;transform:scaleX(1.0243);transform-origin:left center;">25.08</div>
<div class="t" id="t27" style="top:430.4px;font-size:22.5px;color:#EAECEF;left:675.5px;transform:scaleX(1.0482);transform-origin:left center;">亿</div>
<div class="t" id="t28" style="top:502.44px;font-size:24px;color:#EAECEF;font-weight:500;left:32px;transform:scaleX(0.9893);transform-origin:left center;-webkit-text-stroke:0.3px #EAECEF;">1分</div>
<div class="t" id="t29" style="top:502.44px;font-size:24px;color:#848E9C;left:103px;transform:scaleX(1.0051);transform-origin:left center;">15分</div>
<div class="t" id="t30" style="top:502.44px;font-size:24px;color:#848E9C;left:187px;transform:scaleX(1.0098);transform-origin:left center;">1小时</div>
<div class="t" id="t31" style="top:502.44px;font-size:24px;color:#848E9C;left:281px;transform:scaleX(1.0261);transform-origin:left center;">4小时</div>
<div class="t" id="t32" style="top:502.44px;font-size:24px;color:#848E9C;left:377px;transform:scaleX(0.9893);transform-origin:left center;">1天</div>
<div class="t" id="t33" style="top:502.44px;font-size:24px;color:#848E9C;left:445.04px;transform:scaleX(1.0400);transform-origin:left center;">更多</div>
<div class="t" id="t34" style="top:502.44px;font-size:24px;color:#848E9C;left:558.04px;transform:scaleX(1.0406);transform-origin:left center;">深度图</div>
<div class="t" id="t35" style="top:553.14px;font-size:20.8px;color:#F0B90B;left:31.5px;transform:scaleX(1.0455);transform-origin:left center;">BOLL:(20, 2)</div>
<div class="t" id="t36" style="top:553.14px;font-size:20.8px;color:#F0B90B;left:174px;transform:scaleX(1.0830);transform-origin:left center;">UP: 81,041.34</div>
<div class="t" id="t37" style="top:553.14px;font-size:20.8px;color:#E243B9;left:335px;transform:scaleX(1.0866);transform-origin:left center;">MB: 79,854.15</div>
<div class="t" id="t38" style="top:553.14px;font-size:20.8px;color:#9465CF;left:499px;transform:scaleX(1.0960);transform-origin:left center;">DN: 78,666.96</div>
<div class="t" id="t39" style="top:1171.04px;font-size:20.8px;color:#848E9C;left:31.5px;transform:scaleX(1.0926);transform-origin:left center;">Vol: 73.38203</div>
<div class="t" id="t40" style="top:1171.04px;font-size:20.8px;color:#F0B90B;left:188px;transform:scaleX(1.0872);transform-origin:left center;">MA(5): 424.28313</div>
<div class="t" id="t41" style="top:1171.04px;font-size:20.8px;color:#9465CF;left:386px;transform:scaleX(1.0896);transform-origin:left center;">MA(10): 399.09348</div>
<div class="t" id="t42" style="top:1346.04px;font-size:20.8px;color:#F0B90B;left:32px;transform:scaleX(1.0389);transform-origin:left center;">RSI(6): 42.19</div>
<div class="t" id="t43" style="top:1346.04px;font-size:20.8px;color:#E243B9;left:177px;transform:scaleX(1.0572);transform-origin:left center;">RSI(12): 37.50</div>
<div class="t" id="t44" style="top:1346.04px;font-size:20.8px;color:#9465CF;left:337px;transform:scaleX(1.0498);transform-origin:left center;">RSI(24): 36.62</div>
<div class="t" id="t45" style="top:1511.04px;font-size:20.8px;color:#F0B90B;left:32px;transform:scaleX(1.0857);transform-origin:left center;">DIF: -423.12</div>
<div class="t" id="t46" style="top:1511.04px;font-size:20.8px;color:#9465CF;left:175px;transform:scaleX(1.0972);transform-origin:left center;">DEA: -343.29</div>
<div class="t" id="t47" style="top:1511.04px;font-size:20.8px;color:#F0B90B;left:329px;transform:scaleX(1.0853);transform-origin:left center;">MACD: -79.83</div>
<div class="t" id="t48" style="top:564.99px;font-size:21.1px;color:#8c94a0;right:11px;transform:scaleX(1.0869);transform-origin:right center;">81,900.09</div>
<div class="t" id="t49" style="top:681.19px;font-size:21.1px;color:#8c94a0;right:11px;transform:scaleX(1.0869);transform-origin:right center;">81,122.23</div>
<div class="t" id="t50" style="top:796.79px;font-size:21.1px;color:#8c94a0;right:11px;transform:scaleX(1.0869);transform-origin:right center;">80,344.37</div>
<div class="t" id="t51" style="top:912.79px;font-size:21.1px;color:#8c94a0;right:11px;transform:scaleX(1.0869);transform-origin:right center;">79,566.51</div>
<div class="t" id="t52" style="top:1028.59px;font-size:21.1px;color:#8c94a0;right:11px;transform:scaleX(1.0869);transform-origin:right center;">78,788.65</div>
<div class="t" id="t53" style="top:1141.99px;font-size:21.1px;color:#8c94a0;right:11px;transform:scaleX(1.0869);transform-origin:right center;">78,010.78</div>
<div class="t" id="t54" style="top:1210.19px;font-size:21.1px;color:#8c94a0;right:11px;transform:scaleX(1.0474);transform-origin:right center;">1.11K</div>
<div class="t" id="t55" style="top:1307.19px;font-size:21.1px;color:#8c94a0;right:11px;transform:scaleX(1.0570);transform-origin:right center;">9.9</div>
<div class="t" id="t56" style="top:1356.49px;font-size:21.1px;color:#8c94a0;right:11px;transform:scaleX(1.0715);transform-origin:right center;">60.0</div>
<div class="t" id="t57" style="top:1425.49px;font-size:21.1px;color:#8c94a0;right:11px;transform:scaleX(1.0715);transform-origin:right center;">30.0</div>
<div class="t" id="t58" style="top:1524.89px;font-size:21.1px;color:#8c94a0;right:11px;transform:scaleX(1.0715);transform-origin:right center;">0.00</div>
<div class="t" id="t59" style="top:690.29px;font-size:21.1px;color:#EAECEF;left:35.3px;transform:scaleX(1.0804);transform-origin:left center;">81,142.11</div>
<div class="t" id="t60" style="top:1134.49px;font-size:21.1px;color:#EAECEF;left:430.9px;transform:scaleX(1.0773);transform-origin:left center;">78,159.90</div>
<div class="t" id="t63" style="top:1684.38px;font-size:20.5px;color:#EAECEF;left:52.48px;transform:scaleX(0.9888);transform-origin:left center;">更多</div>
<div class="t" id="t64" style="top:1684.38px;font-size:20.5px;color:#EAECEF;left:134.18px;transform:scaleX(0.9888);transform-origin:left center;">工具</div>
<div class="t" id="t65" style="top:1684.38px;font-size:20.5px;color:#EAECEF;left:216.38px;transform:scaleX(0.9888);transform-origin:left center;">杠杆</div>
<div class="t" id="t68" style="top:1761.98px;font-size:22.8px;color:#d3d6db;font-weight:700;left:699.6px;transform:scaleX(0.8455);transform-origin:left center;-webkit-text-stroke:0.55px #d3d6db;">@</div>
<div class="t" id="t69" style="top:1763.11px;font-size:24.3px;color:#d3d6db;font-weight:500;left:724.33px;transform:scaleX(0.9862);transform-origin:left center;">阿根战记</div>
<div class="pbox"></div>
<div class="t" id="t61" style="top:985.29px;font-size:21.1px;color:#FFFFFF;right:11.2px;transform:scaleX(1.0763);transform-origin:right center;">79,165.76</div>
<div class="t" id="t62" style="top:1014.29px;font-size:21.1px;color:#FFFFFF;right:11.2px;transform:scaleX(1.0607);transform-origin:right center;">00:18</div>
<div class="t" id="t66" style="top:1660.16px;font-size:27.6px;color:#FFFFFF;font-weight:500;left:387.6px;transform:scaleX(1.0327);transform-origin:left center;">买入</div>
<div class="t" id="t67" style="top:1660.16px;font-size:27.6px;color:#FFFFFF;font-weight:500;left:647.1px;transform:scaleX(1.0327);transform-origin:left center;">卖出</div>
<svg style="position:absolute;left:0;top:0" width="828" height="1801" viewBox="0 0 828 1801">

<rect x="705.050" y="973.850" width="121.600" height="69.500" rx="9.200" fill="none" stroke="#d2d5da" stroke-width="1.700"/>
<!-- expand arrows -->
<g fill="none" stroke="#EAECEF" stroke-width="3" stroke-linecap="round" stroke-linejoin="round">
 <path d="M65.800 1112.800 L80 1098.800 M70.400 1098.500 H80.300 V1108.400"/>
 <path d="M58 1120.800 L44 1134.600 M43.700 1125 V1134.900 H53.600"/>
</g>
<polyline points="69.44,688.7 85.9,694.5 102.36,699.9 118.82,703.8 135.28,709.2 151.74,716.3" fill="none" stroke="#E243B9" stroke-width="2.2" stroke-linejoin="round" stroke-linecap="round"/>

</svg>
</body>
</html>
